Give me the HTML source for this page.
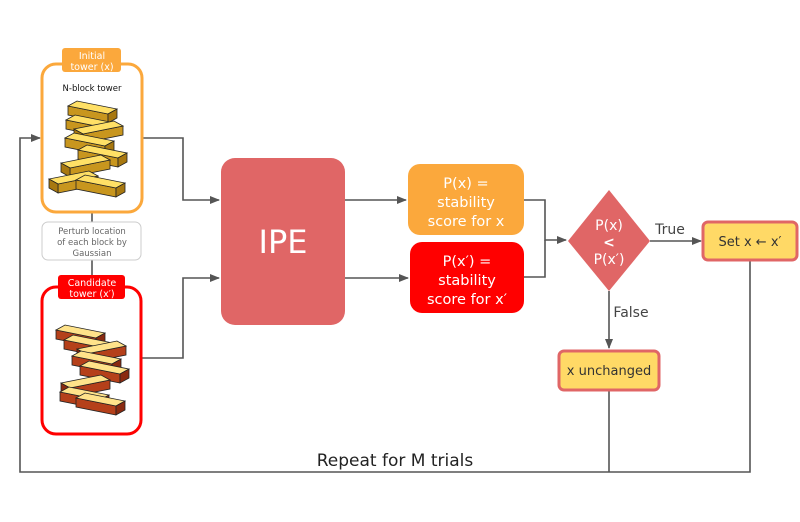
<!DOCTYPE html>
<html><head><meta charset="utf-8"><style>
body{margin:0;background:#fff}
svg{display:block}
text{font-family:"DejaVu Sans","Liberation Sans",sans-serif}
</style></head><body>
<svg width="800" height="522" viewBox="0 0 800 522" xmlns="http://www.w3.org/2000/svg">
<defs>
<marker id="a" markerWidth="10" markerHeight="10" refX="9" refY="5" orient="auto" markerUnits="userSpaceOnUse"><path d="M0,1 L10,5 L0,9 z" fill="#555"/></marker>
<g id="by"><polygon points="0,0 40,8 40,17 0,9" fill="#c8961e" stroke="#222" stroke-width="0.8"/><polygon points="0,0 9,-5 49,3 40,8" fill="#ffe066" stroke="#222" stroke-width="0.8"/><polygon points="40,8 49,3 49,12 40,17" fill="#a87810" stroke="#222" stroke-width="0.8"/></g>
<g id="by2"><polygon points="0,8 40,0 40,9 0,17" fill="#c8961e" stroke="#222" stroke-width="0.8"/><polygon points="0,8 -9,3 31,-5 40,0" fill="#ffe066" stroke="#222" stroke-width="0.8"/><polygon points="0,8 -9,3 -9,12 0,17" fill="#a87810" stroke="#222" stroke-width="0.8"/></g>
<g id="br"><polygon points="0,0 40,8 40,17 0,9" fill="#b5401a" stroke="#222" stroke-width="0.8"/><polygon points="0,0 9,-5 49,3 40,8" fill="#ffe38a" stroke="#222" stroke-width="0.8"/><polygon points="40,8 49,3 49,12 40,17" fill="#8a2a10" stroke="#222" stroke-width="0.8"/></g>
<g id="br2"><polygon points="0,8 40,0 40,9 0,17" fill="#b5401a" stroke="#222" stroke-width="0.8"/><polygon points="0,8 -9,3 31,-5 40,0" fill="#ffe38a" stroke="#222" stroke-width="0.8"/><polygon points="0,8 -9,3 -9,12 0,17" fill="#8a2a10" stroke="#222" stroke-width="0.8"/></g>
</defs>
<g fill="none" stroke="#555" stroke-width="1.6">
<polyline points="142,138 183,138 183,200 219,200" marker-end="url(#a)"/>
<polyline points="142,358 183,358 183,278 219,278" marker-end="url(#a)"/>
<line x1="345" y1="200" x2="406" y2="200" marker-end="url(#a)"/>
<line x1="345" y1="278" x2="408" y2="278" marker-end="url(#a)"/>
<polyline points="524,200 545,200 545,240 566,240" marker-end="url(#a)"/>
<polyline points="524,277 545,277 545,240"/>
<line x1="650" y1="241" x2="701" y2="241" marker-end="url(#a)"/>
<line x1="609" y1="291" x2="609" y2="348" marker-end="url(#a)"/>
<line x1="609" y1="390" x2="609" y2="472"/>
<polyline points="750,260 750,472 20,472 20,138 40,138" marker-end="url(#a)"/>
<line x1="92" y1="212" x2="92" y2="222"/>
<line x1="92" y1="260" x2="92" y2="284" marker-end="url(#a)"/>
</g>
<rect x="42" y="64" width="100" height="148" rx="14" fill="#fff" stroke="#FBA83C" stroke-width="3"/>
<rect x="62" y="48" width="59" height="24" rx="3" fill="#FBA83C"/>
<text x="92" y="59" font-size="9.5" fill="#fff" text-anchor="middle">Initial</text>
<text x="92" y="70" font-size="9.5" fill="#fff" text-anchor="middle">tower (x)</text>
<text x="92" y="91" font-size="8.5" fill="#111" text-anchor="middle">N-block tower</text>
<g>
<use href="#by" x="68" y="106"/><use href="#by" x="66" y="120"/><use href="#by2" x="83" y="126"/><use href="#by" x="65" y="138"/><use href="#by" x="78" y="150"/><use href="#by2" x="70" y="160"/><use href="#by2" x="58" y="176"/><use href="#by" x="76" y="180"/>
</g>
<rect x="42" y="222" width="99" height="38" rx="6" fill="#fff" stroke="#ccc" stroke-width="1"/>
<text x="92" y="234" font-size="8.5" fill="#666" text-anchor="middle">Perturb location</text>
<text x="92" y="245" font-size="8.5" fill="#666" text-anchor="middle">of each block by</text>
<text x="92" y="256" font-size="8.5" fill="#666" text-anchor="middle">Gaussian</text>
<rect x="42" y="287" width="99" height="147" rx="14" fill="#fff" stroke="#FF0000" stroke-width="3"/>
<rect x="58" y="275" width="67" height="24" rx="3" fill="#FF0000"/>
<text x="92" y="286" font-size="9.5" fill="#fff" text-anchor="middle">Candidate</text>
<text x="92" y="297" font-size="9.5" fill="#fff" text-anchor="middle">tower (x′)</text>
<g>
<use href="#br" x="56" y="330"/><use href="#br" x="64" y="340"/><use href="#br2" x="86" y="346"/><use href="#br" x="72" y="356"/><use href="#br" x="80" y="366"/><use href="#br2" x="70" y="380"/><use href="#br" x="60" y="392"/><use href="#br" x="76" y="398"/>
</g>
<rect x="221" y="158" width="124" height="167" rx="14" fill="#E06666"/>
<text x="283" y="253" font-size="32" fill="#fff" text-anchor="middle">IPE</text>
<rect x="408" y="164" width="116" height="71" rx="12" fill="#FBA83C"/>
<text x="466" y="188" font-size="14.5" fill="#fff" text-anchor="middle">P(x) =</text>
<text x="466" y="207" font-size="14.5" fill="#fff" text-anchor="middle">stability</text>
<text x="466" y="226" font-size="14.5" fill="#fff" text-anchor="middle">score for x</text>
<rect x="410" y="242" width="114" height="71" rx="12" fill="#FF0000"/>
<text x="467" y="266" font-size="14.5" fill="#fff" text-anchor="middle">P(x′) =</text>
<text x="467" y="285" font-size="14.5" fill="#fff" text-anchor="middle">stability</text>
<text x="467" y="304" font-size="14.5" fill="#fff" text-anchor="middle">score for x′</text>
<polygon points="609,190 650,241 609,291 568,241" fill="#E06666"/>
<text x="609" y="230" font-size="14" fill="#fff" text-anchor="middle">P(x)</text>
<text x="609" y="247" font-size="14" font-weight="bold" fill="#fff" text-anchor="middle">&lt;</text>
<text x="609" y="264" font-size="14" fill="#fff" text-anchor="middle">P(x′)</text>
<text x="670" y="234" font-size="14" fill="#444" text-anchor="middle">True</text>
<text x="631" y="317" font-size="14" fill="#444" text-anchor="middle">False</text>
<rect x="703" y="222" width="94" height="38" rx="5" fill="#FFD966" stroke="#E06666" stroke-width="3"/>
<text x="750" y="246" font-size="13" fill="#333" text-anchor="middle">Set x ← x′</text>
<rect x="559" y="351" width="100" height="39" rx="5" fill="#FFD966" stroke="#E06666" stroke-width="3"/>
<text x="609" y="375" font-size="13" fill="#333" text-anchor="middle">x unchanged</text>
<text x="395" y="466" font-size="17" fill="#222" text-anchor="middle">Repeat for M trials</text>
</svg>
</body></html>
